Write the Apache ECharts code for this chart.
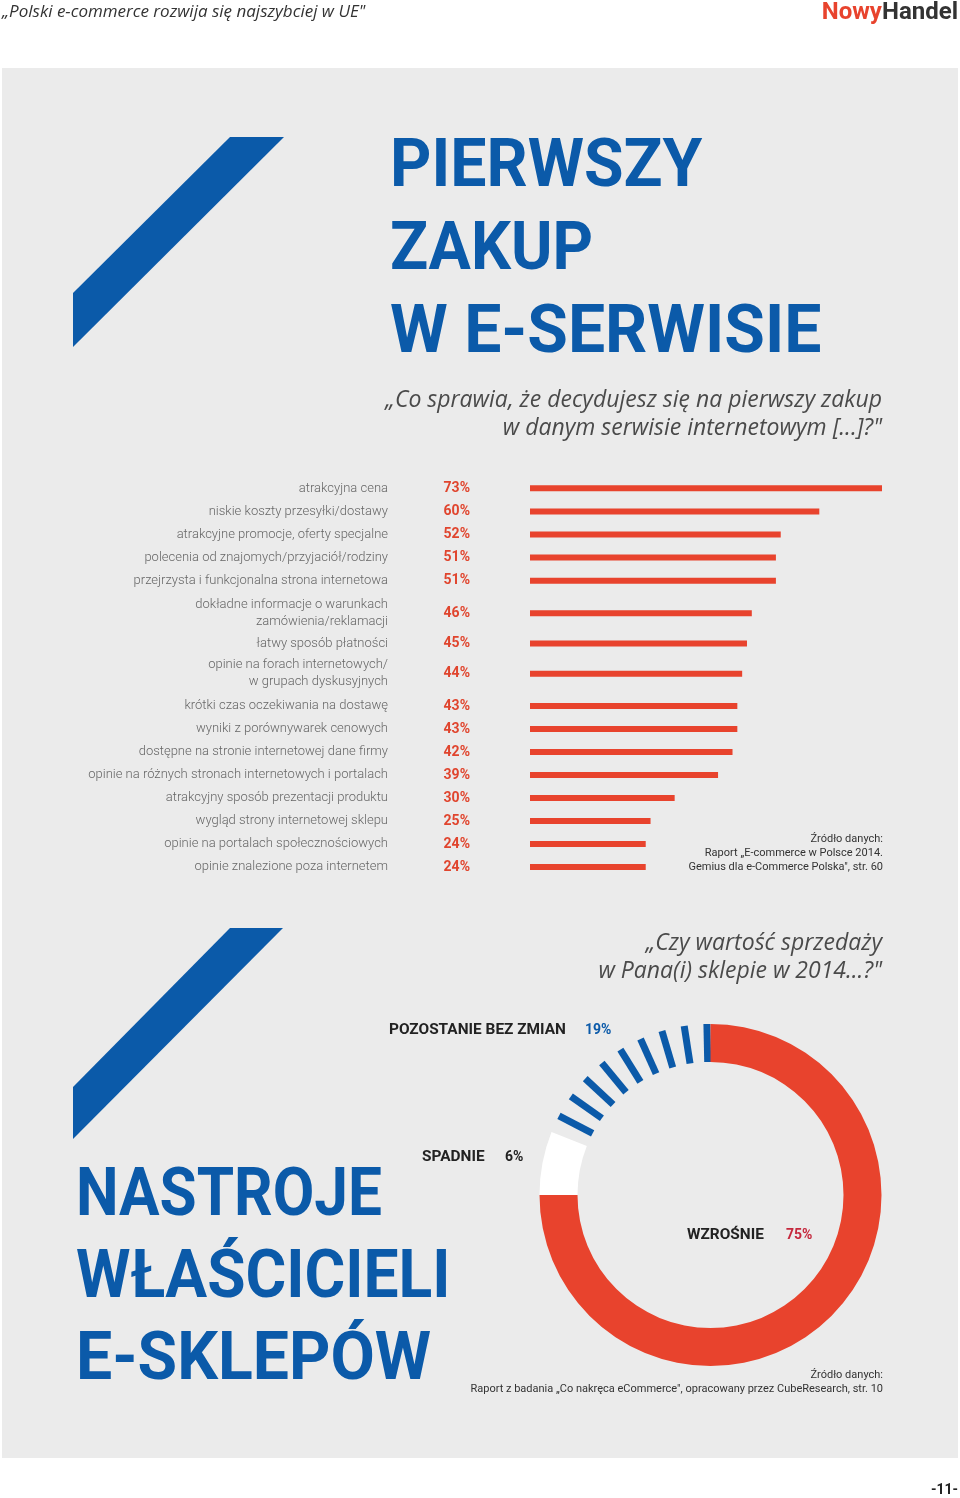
<!DOCTYPE html>
<html>
<head>
<meta charset="utf-8">
<script src="https://cdn.jsdelivr.net/npm/echarts@6/dist/echarts.min.js"></script>
<style>
html,body{margin:0;padding:0;background:#ffffff;}
#chart{width:960px;height:1498px;}
</style>
</head>
<body>
<div id="chart"></div>
<script>
// ---------- DATA ----------
const categories = [
  'atrakcyjna cena',
  'niskie koszty przesyłki/dostawy',
  'atrakcyjne promocje, oferty specjalne',
  'polecenia od znajomych/przyjaciół/rodziny',
  'przejrzysta i funkcjonalna strona internetowa',
  'dokładne informacje o warunkach\nzamówienia/reklamacji',
  'łatwy sposób płatności',
  'opinie na forach internetowych/\nw grupach dyskusyjnych',
  'krótki czas oczekiwania na dostawę',
  'wyniki z porównywarek cenowych',
  'dostępne na stronie internetowej dane firmy',
  'opinie na różnych stronach internetowych i portalach',
  'atrakcyjny sposób prezentacji produktu',
  'wygląd strony internetowej sklepu',
  'opinie na portalach społecznościowych',
  'opinie znalezione poza internetem'
];
const values = [73, 60, 52, 51, 51, 46, 45, 44, 43, 43, 42, 39, 30, 25, 24, 24];

const donutLabels = ['WZROŚNIE', 'SPADNIE', 'POZOSTANIE BEZ ZMIAN'];
const donutValues = [75, 6, 19];

const source1 = ['Źródło danych:', 'Raport „E-commerce w Polsce 2014.', 'Gemius dla e-Commerce Polska", str. 60'];
const source2 = ['Źródło danych:', 'Raport z badania „Co nakręca eCommerce", opracowany przez CubeResearch, str. 10'];

// ---------- STYLE ----------
const BLUE = '#0b5aa9';
const RED = '#e8432d';
const PANEL = '#ebebeb';

const chart = echarts.init(document.getElementById('chart'), null, {renderer: 'canvas', width: 960, height: 1498});

// row groups (rows with two-line labels get taller bands)
const groups = [[0, 5], [5, 8], [8, 16]];
const boxes = [{top: 476.75, height: 115.5}, {top: 598.2, height: 90.6}, {top: 694.5, height: 184}];

const grids = [], xAxes = [], yAxes = [], series = [];
groups.forEach((g, i) => {
  grids.push({left: 530, width: 352, top: boxes[i].top, height: boxes[i].height});
  xAxes.push({gridIndex: i, type: 'value', min: 0, max: Math.max(...values), show: false, splitLine: {show: false}});
  yAxes.push({
    gridIndex: i, type: 'category', inverse: true,
    data: categories.slice(g[0], g[1]),
    axisLine: {show: false}, axisTick: {show: false}, splitLine: {show: false},
    axisLabel: {margin: 142, color: '#666', fontSize: 13, fontFamily: 'Roboto', fontWeight: 300, lineHeight: 17, align: 'right'}
  });
  series.push({
    type: 'bar', xAxisIndex: i, yAxisIndex: i,
    data: values.slice(g[0], g[1]),
    barWidth: 6, itemStyle: {color: RED},
    label: {show: true, position: 'left', distance: 60, formatter: '{c}%', color: '#e0452e', fontSize: 14, fontWeight: 'bold', fontFamily: 'Roboto'},
    silent: true, animation: false
  });
});

// donut
const donutColors = [RED, '#ffffff', 'transparent'];
series.push({
  type: 'pie', center: [710.5, 1195], radius: [133, 171], startAngle: 90, clockwise: true,
  label: {show: false}, labelLine: {show: false}, silent: true, animation: false,
  data: donutValues.map((v, i) => ({name: donutLabels[i], value: v, itemStyle: {color: donutColors[i]}}))
});
const total = donutValues.reduce((a, b) => a + b, 0);
const blueSpan = donutValues[2] / total * 360;
series.push({
  type: 'gauge', center: [710.5, 1195], radius: 171,
  startAngle: 90 + blueSpan - 6, endAngle: 91.2, splitNumber: 8, min: 0, max: 8,
  axisLine: {show: false, lineStyle: {width: 0}},
  axisTick: {show: false}, axisLabel: {show: false}, pointer: {show: false},
  anchor: {show: false}, title: {show: false}, detail: {show: false},
  splitLine: {show: true, distance: 0, length: 38, lineStyle: {color: BLUE, width: 7, cap: 'butt'}},
  data: [], silent: true, animation: false
});

// ---------- GRAPHICS ----------
function T(text, x, y, font, fill, align, extra, el) {
  return Object.assign({type: 'text', x: x, y: y, z: 100, silent: true,
    style: Object.assign({text: text, font: font, fill: fill, textAlign: align || 'left', textVerticalAlign: 'middle'}, (extra || {}))}, el || {});
}
const titleFont = 'bold 67px Roboto';
const qFont = 'italic 23px "Open Sans"';
const srcFont = '11px Roboto';
const lblFont = 'bold 14px Roboto';

const graphics = [
  {type: 'rect', z: -10, silent: true, shape: {x: 2, y: 68, width: 956, height: 1390}, style: {fill: PANEL}},
  {type: 'polygon', z: 1, silent: true, shape: {points: [[230, 137], [284, 137], [73, 347], [73, 293]]}, style: {fill: BLUE}},
  {type: 'polygon', z: 1, silent: true, shape: {points: [[230, 928], [283, 928], [73, 1139], [73, 1087]]}, style: {fill: BLUE}},
  T('„Polski e-commerce rozwija się najszybciej w UE"', 2, 12, 'italic 17px "Open Sans"', '#333', 'left', null, {scaleX: 1.0}),
  {type: 'text', x: 958, y: 13, z: 100, silent: true, style: {
    text: '{a|Nowy}{b|Handel}', textAlign: 'right', textVerticalAlign: 'middle',
    rich: {a: {font: 'bold 24px Roboto', fill: RED, color: RED}, b: {font: 'bold 24px Roboto', fill: '#333', color: '#333'}}}},
  T('-11-', 958, 1490, 'bold 14px Roboto', '#222', 'right'),
  // first section
  T('PIERWSZY', 390, 169, titleFont, BLUE, 'left', null, {scaleX: 0.96}),
  T('ZAKUP', 390, 252, titleFont, BLUE, 'left', null, {scaleX: 0.94}),
  T('W E-SERWISIE', 390, 335, titleFont, BLUE, 'left', null, {scaleX: 0.985}),
  T('„Co sprawia, że decydujesz się na pierwszy zakup', 882, 400, qFont, '#4a4a4a', 'right'),
  T('w danym serwisie internetowym [...]?"', 882, 428, qFont, '#4a4a4a', 'right'),
  T(source1.join('\n'), 883, 853, srcFont, '#333', 'right', {lineHeight: 14}),
  // second section
  T('„Czy wartość sprzedaży', 882, 943, qFont, '#4a4a4a', 'right'),
  T('w Pana(i) sklepie w 2014...?"', 882, 971, qFont, '#4a4a4a', 'right'),
  T('NASTROJE', 76, 1198, titleFont, BLUE, 'left', null, {scaleX: 0.9}),
  T('WŁAŚCICIELI', 76, 1280, titleFont, BLUE, 'left', null, {scaleX: 0.93}),
  T('E-SKLEPÓW', 76, 1362, titleFont, BLUE, 'left', null, {scaleX: 0.96}),
  T(donutLabels[2], 389, 1030, lblFont, '#222', 'left', null, {scaleX: 1.1}),
  T(donutValues[2] + '%', 585, 1030, lblFont, BLUE),
  T(donutLabels[1], 422, 1157, lblFont, '#222', 'left', null, {scaleX: 1.1}),
  T(donutValues[1] + '%', 505, 1157, lblFont, '#222'),
  T(donutLabels[0], 687, 1235, lblFont, '#222', 'left', null, {scaleX: 1.1}),
  T(donutValues[0] + '%', 786, 1235, lblFont, '#c5283d'),
  T(source2.join('\n'), 883, 1382, srcFont, '#333', 'right', {lineHeight: 14})
];

chart.setOption({
  backgroundColor: '#ffffff',
  animation: false,
  grid: grids, xAxis: xAxes, yAxis: yAxes, series: series,
  graphic: {elements: graphics}
});
</script>
</body>
</html>
